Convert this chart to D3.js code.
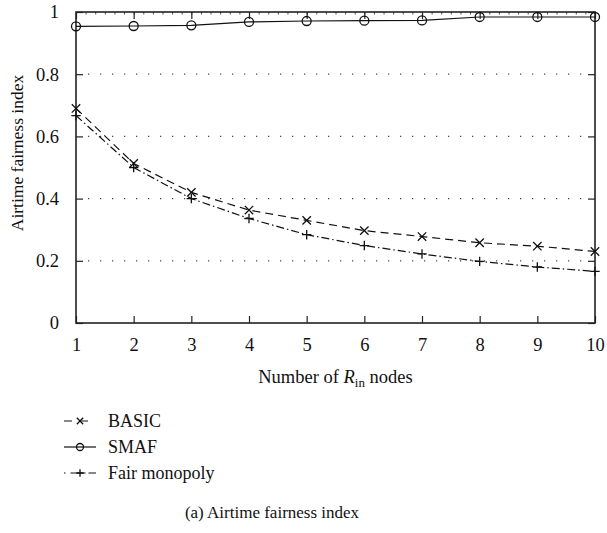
<!DOCTYPE html>
<html>
<head>
<meta charset="utf-8">
<script src="https://cdn.jsdelivr.net/npm/d3@7"></script>
<style>
  html, body { margin: 0; padding: 0; background: #fff; }
  svg { display: block; }
  svg text { font-family: "Liberation Serif", "DejaVu Serif", serif; }
</style>
</head>
<body>
<svg id="chart" width="607" height="533"></svg>
<script>
// Number of R_in nodes
const nodes = [1, 2, 3, 4, 5, 6, 7, 8, 9, 10];
// Airtime fairness index per scheme
const basic = [0.690, 0.513, 0.420, 0.363, 0.330, 0.297, 0.278, 0.258, 0.247, 0.230];
const smaf = [0.954, 0.955, 0.957, 0.968, 0.971, 0.972, 0.973, 0.984, 0.984, 0.984];
const fairMonopoly = [0.667, 0.500, 0.400, 0.336, 0.284, 0.249, 0.222, 0.198, 0.180, 0.166];
const yTicks = [0, 0.2, 0.4, 0.6, 0.8, 1];
const yTickLabels = ["0", "0.2", "0.4", "0.6", "0.8", "1"];
const seriesNames = ["BASIC", "SMAF", "Fair monopoly"];

const FONT = "'Liberation Serif', 'DejaVu Serif', serif";
const svg = d3.select("#chart");
const plotL = 76, plotR = 595, plotT = 12, plotB = 323;

const x = d3.scaleLinear().domain([1, 10]).range([plotL, plotR]);
const y = d3.scaleLinear().domain([0, 1]).range([plotB, plotT]);

const ink = "#111";
const frame = "#222";

// dotted horizontal grid
svg.append("g")
  .selectAll("line")
  .data(yTicks.filter(v => v > 0 && v < 1))
  .join("line")
  .attr("x1", plotL + 7).attr("x2", plotR - 7)
  .attr("y1", d => y(d)).attr("y2", d => y(d))
  .attr("stroke", "#444")
  .attr("stroke-width", 1.2)
  .attr("stroke-dasharray", "1.2,10.8")
  .attr("stroke-dashoffset", -5);

// axes with inward ticks
const axB = d3.axisBottom(x).tickValues(nodes).tickSize(-7).tickPadding(15).tickFormat(d3.format("d"));
const axT = d3.axisTop(x).tickValues(nodes).tickSize(-7).tickFormat("");
const axTMinor = d3.axisTop(x).tickValues(d3.range(1, 10.001, 1 / 6)).tickSize(-2.5).tickFormat("");
const axL = d3.axisLeft(y).tickValues(yTicks).tickSize(-7).tickPadding(17).tickFormat((d, i) => yTickLabels[i]);
const axR = d3.axisRight(y).tickValues(yTicks).tickSize(-7).tickFormat("");

function styleAxis(g) {
  g.attr("font-family", FONT);
  g.select(".domain").remove();
  g.selectAll(".tick line").attr("stroke", frame).attr("stroke-width", 1.2);
  g.selectAll(".tick text").attr("fill", ink).attr("font-size", 18.5)
    .style("font-family", FONT);
}
svg.append("g").attr("transform", `translate(0,${plotB})`).call(axB).call(styleAxis);
svg.append("g").attr("transform", `translate(0,${plotT})`).call(axT).call(styleAxis);
svg.append("g").attr("transform", `translate(0,${plotT})`).call(axTMinor).call(styleAxis)
  .selectAll(".tick line").attr("stroke-width", 0.8);
svg.append("g").attr("transform", `translate(${plotL},0)`).call(axL).call(styleAxis);
svg.append("g").attr("transform", `translate(${plotR},0)`).call(axR).call(styleAxis);

// plot frame
svg.append("rect")
  .attr("x", plotL).attr("y", plotT)
  .attr("width", plotR - plotL).attr("height", plotB - plotT)
  .attr("fill", "none").attr("stroke", frame).attr("stroke-width", 1.6);

// series
const series = [
  { name: seriesNames[0], values: basic, dash: "8,5", marker: "x", legendDash: "8,8,8" },
  { name: seriesNames[1], values: smaf, dash: null, marker: "o", legendDash: null },
  { name: seriesNames[2], values: fairMonopoly, dash: "8,3,1.5,3", marker: "+", legendDash: "1.5,5,15,3,8" }
];

const line = d3.line().x(d => x(d[0])).y(d => y(d[1]));

function drawMarker(g, type, cx, cy, s) {
  if (type === "x") {
    g.append("path")
      .attr("d", `M${cx - s},${cy - s}L${cx + s},${cy + s}M${cx - s},${cy + s}L${cx + s},${cy - s}`)
      .attr("stroke", ink).attr("stroke-width", 1.3).attr("fill", "none");
  } else if (type === "+") {
    g.append("path")
      .attr("d", `M${cx - s - 0.5},${cy}L${cx + s + 0.5},${cy}M${cx},${cy - s - 0.5}L${cx},${cy + s + 0.5}`)
      .attr("stroke", ink).attr("stroke-width", 1.3).attr("fill", "none");
  } else {
    g.append("circle")
      .attr("cx", cx).attr("cy", cy).attr("r", s + 0.3)
      .attr("stroke", ink).attr("stroke-width", 1.3).attr("fill", "none");
  }
}

series.forEach(s => {
  const pts = nodes.map((n, i) => [n, s.values[i]]);
  const g = svg.append("g");
  g.append("path")
    .attr("d", line(pts))
    .attr("fill", "none")
    .attr("stroke", ink)
    .attr("stroke-width", 1.2)
    .attr("stroke-dasharray", s.dash);
  pts.forEach(p => drawMarker(g, s.marker, x(p[0]), y(p[1]), 4.2));
});

// axis titles
svg.append("text")
  .attr("transform", `translate(23,153) rotate(-90)`)
  .attr("text-anchor", "middle")
  .attr("font-size", 17.5)
  .style("font-family", FONT)
  .attr("fill", ink)
  .text("Airtime fairness index");

const xt = svg.append("text")
  .attr("x", (plotL + plotR) / 2)
  .attr("y", 383)
  .attr("text-anchor", "middle")
  .attr("font-size", 18.5)
  .style("font-family", FONT)
  .attr("fill", ink);
xt.append("tspan").text("Number of ");
xt.append("tspan").attr("font-style", "italic").text("R");
xt.append("tspan").attr("font-size", 13).attr("dy", 4).text("in");
xt.append("tspan").attr("dy", -4).text(" nodes");

// legend
const legend = svg.append("g");
series.forEach((s, i) => {
  const ly = 421 + i * 26;
  legend.append("line")
    .attr("x1", 64).attr("x2", 96)
    .attr("y1", ly).attr("y2", ly)
    .attr("stroke", ink).attr("stroke-width", 1.2)
    .attr("stroke-dasharray", s.legendDash);
  drawMarker(legend, s.marker, 80, ly, 3.2);
  legend.append("text")
    .attr("x", 108).attr("y", ly + 6)
    .attr("font-size", 18)
    .style("font-family", FONT)
    .attr("fill", ink)
    .text(s.name);
});

// caption
svg.append("text")
  .attr("x", 272).attr("y", 518)
  .attr("text-anchor", "middle")
  .attr("font-size", 17)
  .style("font-family", FONT)
  .attr("fill", ink)
  .text("(a)  Airtime fairness index");
</script>
</body>
</html>
